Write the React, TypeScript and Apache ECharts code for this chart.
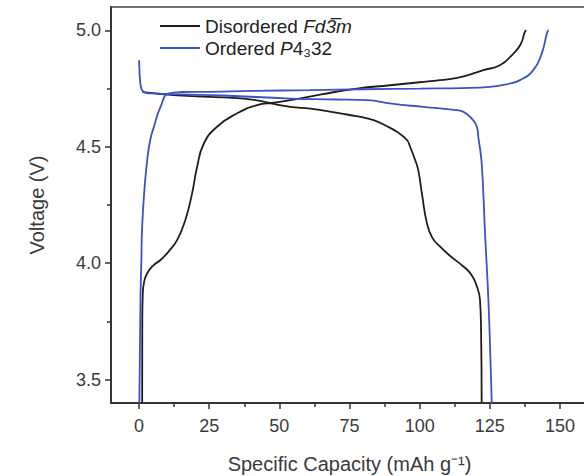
import React, { useEffect, useRef } from "react";
import * as echarts from "echarts";

// Disordered Fd-3m: charge branch
const disChargeCap = [1.1, 1.15, 1.3, 1.8, 2.9, 5, 7.65, 10.5, 13.6, 16.5, 18.9, 20.7, 23.1, 27.8, 34.9, 42.1, 48, 53.9, 65, 77.7, 89.5, 100, 107.3, 115, 122.7, 128.6, 133.4, 136, 137.5, 138];
const disChargeV = [3.4, 3.75, 3.86, 3.92, 3.957, 3.99, 4.014, 4.05, 4.1, 4.186, 4.3, 4.414, 4.514, 4.586, 4.643, 4.679, 4.689, 4.7, 4.725, 4.75, 4.764, 4.777, 4.786, 4.8, 4.829, 4.85, 4.9, 4.94, 4.993, 5.0];
// Disordered Fd-3m: discharge branch
const disDischargeCap = [1.1, 5, 13.6, 25, 37.3, 53.9, 61, 71.7, 78, 83.6, 88, 91.9, 95.4, 96.6, 98.4, 99.5, 100.8, 102.6, 104.5, 107.3, 111, 115.6, 118.5, 120.4, 121.5, 121.9, 122.1];
const disDischargeV = [4.736, 4.73, 4.721, 4.714, 4.707, 4.671, 4.664, 4.643, 4.63, 4.614, 4.59, 4.564, 4.53, 4.5, 4.443, 4.4, 4.3, 4.171, 4.11, 4.071, 4.03, 3.986, 3.95, 3.9, 3.843, 3.7, 3.4];
// Ordered P4332: charge branch
const ordChargeCap = [0.1, 0.5, 0.8, 1.1, 2.0, 2.9, 4.0, 5.3, 7.65, 10.6, 15, 25.4, 40, 61, 80, 100, 115, 125.1, 131, 135.8, 140.5, 143.5, 145.5, 146];
const ordChargeV = [3.4, 3.843, 4.0, 4.157, 4.33, 4.443, 4.53, 4.586, 4.671, 4.729, 4.735, 4.736, 4.74, 4.743, 4.747, 4.75, 4.752, 4.757, 4.768, 4.786, 4.829, 4.9, 4.993, 5.0];
// Ordered P4332: discharge branch
const ordDischargeCap = [0, 0.1, 0.4, 1.1, 4.1, 15, 30, 53.9, 70, 81.2, 90, 101.4, 113.2, 115.6, 118, 120.4, 120.9, 122.1, 123.3, 124.5, 125.2, 125.7];
const ordDischargeV = [4.871, 4.84, 4.78, 4.743, 4.729, 4.725, 4.72, 4.707, 4.703, 4.7, 4.685, 4.671, 4.657, 4.65, 4.628, 4.586, 4.543, 4.43, 4.129, 3.843, 3.6, 3.4];

const xMajorTicks = [0, 25, 50, 75, 100, 125, 150];
const xMinorTicks = [12.5, 37.5, 62.5, 87.5, 112.5, 137.5];
const yMajorTicks = [3.5, 4.0, 4.5, 5.0];
const yMinorTicks = [3.75, 4.25, 4.75];

const seriesNames = ["Disordered", "Ordered"];

const FONT = "'Liberation Sans', Arial, sans-serif";
const BLACK = "#1e1e1e";
const BLUE = "#3d52c4";
const AXIS = "#333";
const TEXT = "#3a3a3a";

const zip = (xs: number[], ys: number[]) => xs.map((x, i) => [x, ys[i]]);

export default function App() {
  const ref = useRef<HTMLDivElement>(null);
  useEffect(() => {
    if (!ref.current) return;
    const chart = echarts.init(ref.current, null, { renderer: "svg" });
    const lineSeries = (name: string, data: number[][], color: string) => ({
      name,
      type: "line",
      data,
      showSymbol: false,
      symbol: "none",
      smooth: 0.5,
      clip: true,
      lineStyle: { color, width: 1.8 },
      itemStyle: { color },
    });
    const axisLineStyle = { show: true, onZero: false, lineStyle: { color: AXIS, width: 1.5 } };
    const richText = { fontSize: 19, color: "#222", fontFamily: FONT, lineHeight: 22 };
    chart.setOption({
      animation: false,
      textStyle: { fontFamily: FONT },
      grid: {
        left: 111,
        top: 7,
        width: 477,
        height: 396,
        containLabel: false,
        outerBoundsMode: "none",
        show: true,
        borderColor: "#444",
        borderWidth: 1.5,
        backgroundColor: "transparent",
      },
      legend: {
        orient: "vertical",
        left: 155,
        top: 10,
        itemWidth: 40,
        itemHeight: 2,
        itemGap: 0,
        icon: "rect",
        data: seriesNames,
        formatter: (name: string) =>
          name === "Disordered"
            ? "{n|Disordered }{i|Fd}{i|3̅}{i|m}"
            : "{n|Ordered }{i|P}{n|4₃32}",
        textStyle: {
          ...richText,
          rich: {
            n: { ...richText },
            i: { ...richText, fontStyle: "italic" },
          },
        },
      },
      xAxis: [
        {
          type: "value",
          min: -10,
          max: 160,
          position: "bottom",
          axisLine: axisLineStyle,
          axisTick: { show: true, inside: false, length: 6, customValues: xMajorTicks, lineStyle: { color: AXIS, width: 1.5 } },
          axisLabel: { show: true, customValues: xMajorTicks, fontSize: 18, color: TEXT, margin: 14, fontFamily: FONT },
          splitLine: { show: false },
          name: "Specific Capacity (mAh g⁻¹)",
          nameLocation: "middle",
          nameGap: 51,
          nameTextStyle: { fontSize: 20, color: TEXT, fontFamily: FONT },
        },
        {
          type: "value",
          min: -10,
          max: 160,
          position: "bottom",
          axisLine: axisLineStyle,
          axisTick: { show: true, inside: false, length: 4, customValues: xMinorTicks, lineStyle: { color: AXIS, width: 1.5 } },
          axisLabel: { show: false },
          splitLine: { show: false },
        },
      ],
      yAxis: [
        {
          type: "value",
          min: 3.4,
          max: 5.1,
          position: "left",
          axisLine: axisLineStyle,
          axisTick: { show: true, inside: false, length: 6, customValues: yMajorTicks, lineStyle: { color: AXIS, width: 1.5 } },
          axisLabel: {
            show: true,
            customValues: yMajorTicks,
            formatter: (v: number) => v.toFixed(1),
            fontSize: 18,
            color: TEXT,
            margin: 10,
            fontFamily: FONT,
          },
          splitLine: { show: false },
          name: "Voltage (V)",
          nameLocation: "middle",
          nameRotate: 90,
          nameGap: 64,
          nameTextStyle: { fontSize: 20, color: TEXT, fontFamily: FONT },
        },
        {
          type: "value",
          min: 3.4,
          max: 5.1,
          position: "left",
          axisLine: axisLineStyle,
          axisTick: { show: true, inside: false, length: 4, customValues: yMinorTicks, lineStyle: { color: AXIS, width: 1.5 } },
          axisLabel: { show: false },
          splitLine: { show: false },
        },
      ],
      series: [
        lineSeries(seriesNames[0], zip(disChargeCap, disChargeV), BLACK),
        lineSeries(seriesNames[0], zip(disDischargeCap, disDischargeV), BLACK),
        lineSeries(seriesNames[1], zip(ordChargeCap, ordChargeV), BLUE),
        lineSeries(seriesNames[1], zip(ordDischargeCap, ordDischargeV), BLUE),
      ],
    });
    return () => chart.dispose();
  }, []);
  return (
    <div
      ref={ref}
      style={{ position: "absolute", left: 0, top: 0, width: 584, height: 476, background: "#fff" }}
    />
  );
}
